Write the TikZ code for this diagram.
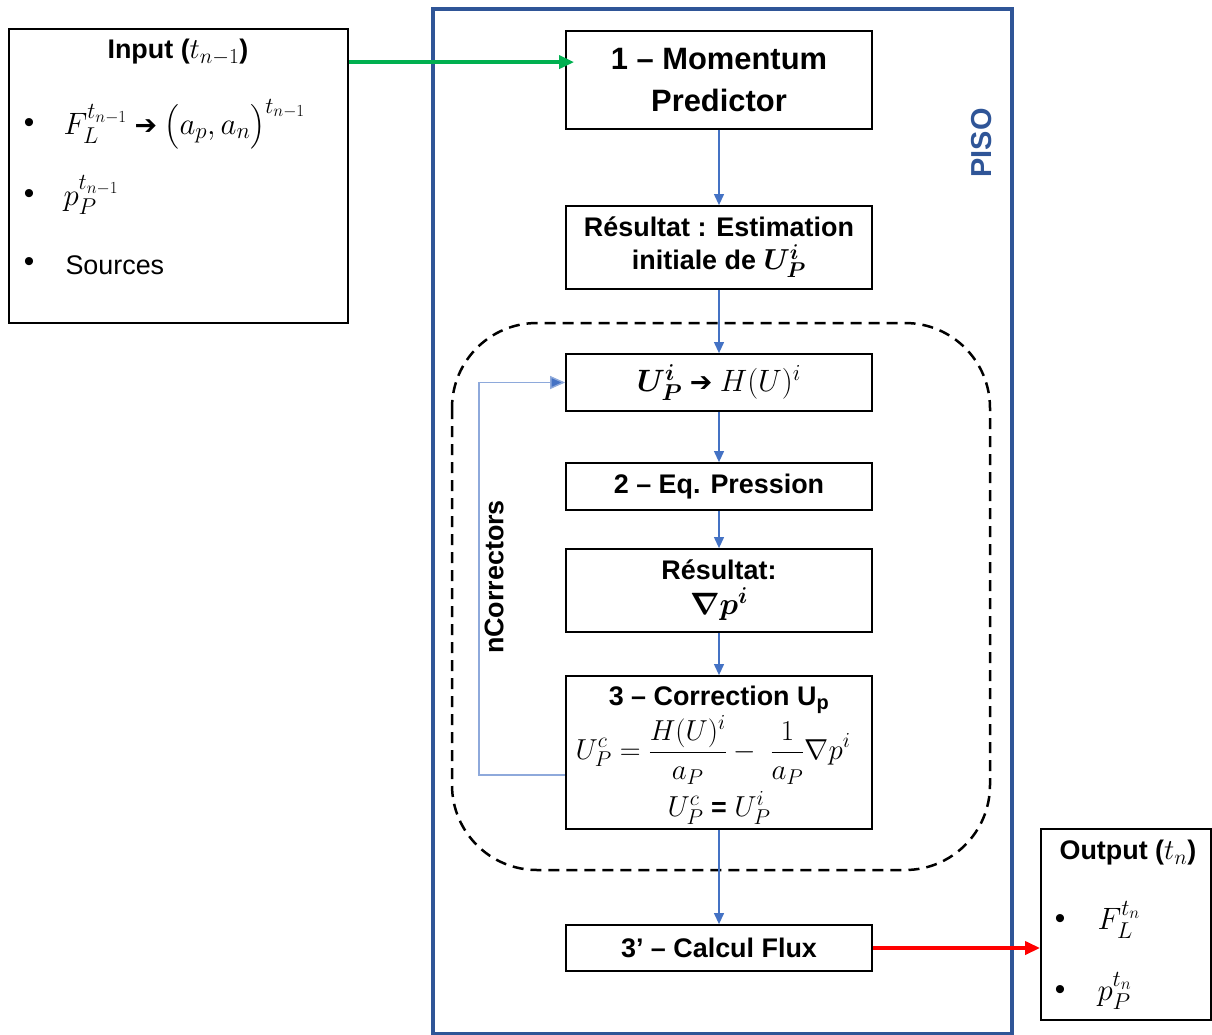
\RequirePackage{fix-cm}
\documentclass[tikz,border=0pt]{standalone}
\usepackage{amsmath,bm}
\usepackage{fontspec}
\setmainfont{Liberation Sans}
\newfontfamily\symfont{DejaVu Sans}
\usetikzlibrary{arrows.meta,calc}
\DeclareMathSizes{27}{27}{20}{15}
\DeclareMathSizes{29}{29}{21.5}{16}
\DeclareMathSizes{31}{31}{23}{17}
\definecolor{pisoblue}{HTML}{2F5597}
\definecolor{arrowblue}{HTML}{4472C4}
\definecolor{loopblue}{HTML}{8EA9DB}
\definecolor{ingreen}{HTML}{00B050}
\newcommand{\harrow}{{\symfont\bfseries ➔}}
\newcommand{\mth}[1]{{\fontsize{31}{35}\selectfont$#1$}}
\newcommand{\mtt}[1]{{\fontsize{29}{33}\selectfont$#1$}}
\tikzset{
  every node/.style={font=\fontsize{27}{33}\selectfont},
  stepbox/.style={draw=black, line width=1.8bp, minimum width=306bp, align=center, inner sep=2bp, font=\bfseries\fontsize{27}{35}\selectfont},
  iobox/.style={draw=black, line width=1.8bp, inner sep=0pt},
  flow/.style={draw=arrowblue, line width=1.2bp, -{Triangle[length=11bp,width=10bp,fill=arrowblue]}},
  loopline/.style={draw=loopblue, line width=1.4bp, -{Triangle[length=15bp,width=13bp,fill=arrowblue]}},
  bigarrow/.style={line width=3.5bp, -{Triangle[length=15bp,width=13bp]}},
  bul/.style={font=\fontsize{30}{30}\selectfont},
  itemtxt/.style={anchor=west, font=\fontsize{27}{33}\selectfont},
  ttl/.style={font=\bfseries\fontsize{27}{33}\selectfont},
  vlabel/.style={rotate=90, font=\bfseries\fontsize{27}{33}\selectfont},
  inbox/.style={inner sep=0pt, font=\bfseries\fontsize{27}{33}\selectfont}
}
\begin{document}
\begin{tikzpicture}[x=1bp, y=-1bp]
\useasboundingbox (0,0) rectangle (1212,1035);
% PISO frame
\draw[draw=pisoblue, line width=4bp] (433,9) rectangle (1012,1034);
\node[vlabel, text=pisoblue, font=\bfseries\fontsize{29}{33}\selectfont] (piso) at (982,143) {PISO};
% dashed loop region
\draw[dashed, line width=2.5bp, dash pattern=on 11bp off 7bp, rounded corners=85bp] (452,323) rectangle (990,870);
% Input box
\node[iobox, minimum width=339bp, minimum height=294bp] (inp) at (178.5,176) {};
\node[ttl] (inpt) at (178,52) {Input (\mtt{t_{n-1}})};
\node[bul] (b1) at (29,126) {•};
\node[itemtxt] (i1) at (60,124) {\mth{F_L^{t_{n-1}}} \harrow\ \mth{\bigl(a_p,a_n\bigr)^{t_{n-1}}}};
\node[bul] (b2) at (29,197) {•};
\node[itemtxt] (i2) at (60,195) {\mth{p_P^{t_{n-1}}}};
\node[bul] (b3) at (29,265) {•};
\node[itemtxt] (i3) at (62,265) {Sources};
% Output box
\node[iobox, minimum width=170bp, minimum height=191bp] (out) at (1126,924.5) {};
\node[ttl] (outt) at (1128,853) {Output (\mtt{t_n})};
\node[bul] (o1b) at (1060,922) {•};
\node[itemtxt] (o1) at (1094,920) {\mth{F_L^{t_n}}};
\node[bul] (o2b) at (1060,993) {•};
\node[itemtxt] (o2) at (1094,991) {\mth{p_P^{t_n}}};
% Steps
\node[stepbox, minimum height=98bp, font=\bfseries\fontsize{31}{42}\selectfont] (m1) at (719,80) {1 – Momentum\\Predictor};
\node[stepbox, minimum height=83bp] (m2) at (719,247.5) {Résultat : Estimation\\[-2bp]initiale de \mtt{\bm{U_P^i}}};
\node[stepbox, minimum height=57bp] (m3) at (719,382.5) {\mth{\bm{U_P^i}} \harrow\ \mth{H(U)^i}};
\node[stepbox, minimum height=47bp] (m4) at (719,486.5) {2 – Eq. Pression};
\node[stepbox, minimum height=83bp] (m5) at (719,590.5) {Résultat:\\\mth{\bm{\nabla p^i}}};
\node[stepbox, minimum height=153bp] (m6) at (719,752.5) {};
\node[inbox] (m6a) at (719,700) {3 – Correction U\textsubscript{p}};
\node[inbox] (m6b) at (713,750) {\mtt{\displaystyle U_P^c=\frac{H(U)^i}{a_P}-\ \frac{1}{a_P}\nabla p^i}};
\node[inbox] (m6c) at (719,808) {\mtt{U_P^c} = \mtt{U_P^i}};
\node[stepbox, minimum height=46bp] (m7) at (719,948) {3’ – Calcul Flux};
% Flow arrows
\draw[flow] (m1) -- (m2);
\draw[flow] (m2) -- (m3);
\draw[flow] (m3) -- (m4);
\draw[flow] (m4) -- (m5);
\draw[flow] (m5) -- (m6);
\draw[flow] (m6) -- (m7);
% Loop
\coordinate (lstart) at ($(m6.west)+(0,22.5)$);
\coordinate (lcorner) at ($(m3.west)+(-86,0)$);
\draw[loopline] (lstart) -| (lcorner) -- (m3.west);
\node[vlabel] (nc) at (494,577) {nCorrectors};
% Input / output arrows
\coordinate (gstart) at ($(inp.north east)+(0,34)$);
\draw[bigarrow, draw=ingreen, fill=ingreen] (gstart) -- ($(m1.west |- gstart)+(9,0)$);
\draw[bigarrow, draw=red, fill=red] (m7.east) -- (m7.east -| out.west);
\end{tikzpicture}
\end{document}
